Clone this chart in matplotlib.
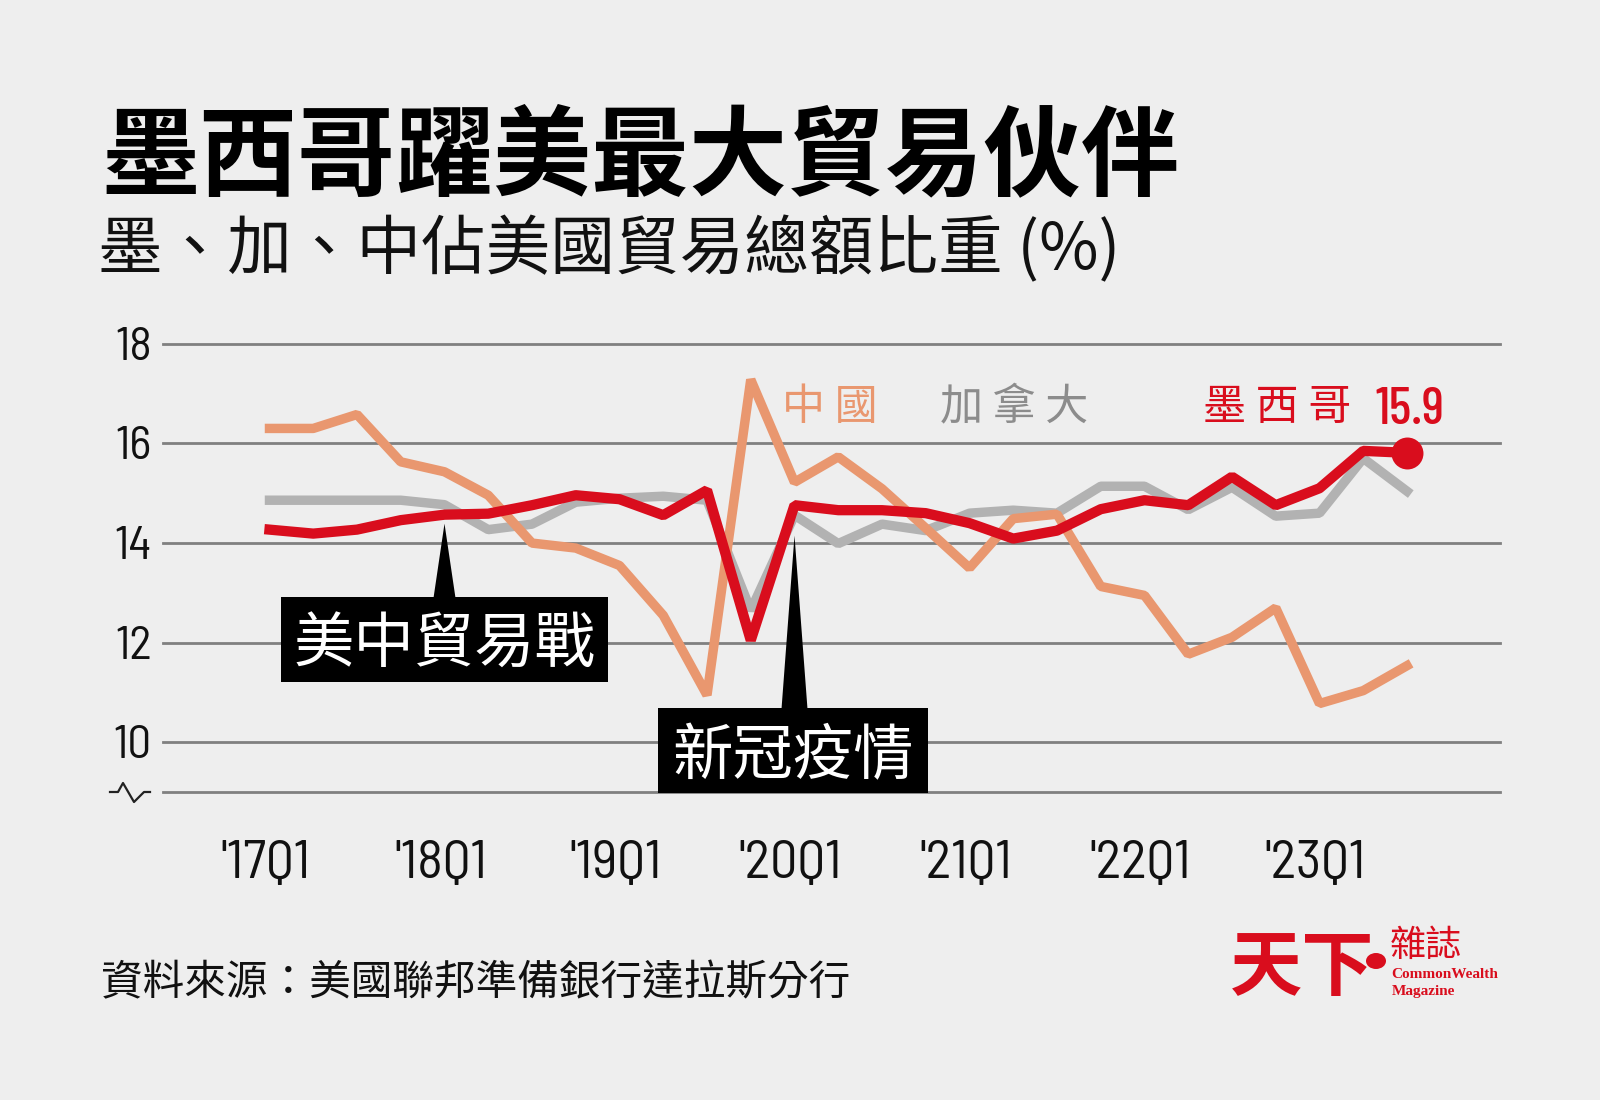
import matplotlib
matplotlib.use("Agg")
import matplotlib.pyplot as plt
from matplotlib.patches import Rectangle, Polygon, Ellipse
from matplotlib.transforms import ScaledTranslation

W, H = 1600, 1100
BG = "#eeeeee"
RED = "#d90d1d"
ORANGE = "#e9976f"
GRAY = "#b2b2b2"
GRID = "#808080"

quarters = list(range(27))
china = [16.3, 16.3, 16.58, 15.63, 15.43, 14.96, 14.0, 13.9, 13.55, 12.55, 10.95, 17.28, 15.22, 15.73,
         15.09, 14.3, 13.5, 14.49, 14.58, 13.13, 12.95, 11.77, 12.11, 12.7, 10.78, 11.04, 11.54]
canada = [14.86, 14.86, 14.86, 14.86, 14.77, 14.27, 14.38, 14.82, 14.9, 14.94, 14.86, 12.65, 14.56, 13.99,
          14.38, 14.25, 14.6, 14.66, 14.6, 15.14, 15.14, 14.67, 15.12, 14.54, 14.6, 15.7, 15.04]
mexico = [14.27, 14.19, 14.27, 14.46, 14.57, 14.59, 14.76, 14.96, 14.88, 14.56, 15.06, 12.05, 14.76, 14.66,
          14.66, 14.6, 14.4, 14.09, 14.25, 14.68, 14.86, 14.76, 15.33, 14.76, 15.1, 15.85, 15.81]
xtick_pos = [0, 4, 8, 12, 16, 20, 24]
xtick_labels = ["'17Q1", "'18Q1", "'19Q1", "'20Q1", "'21Q1", "'22Q1", "'23Q1"]
ytick_pos = [9, 10, 12, 14, 16, 18]
ytick_labels = ["", "10", "12", "14", "16", "18"]
last_label = "15.9"

CJK = ["Noto Sans CJK TC", "DejaVu Sans"]
NARROW = ["Barlow Condensed", "Roboto", "DejaVu Sans"]
SEMI = ["Barlow Semi Condensed", "Roboto", "DejaVu Sans"]
SERIF = ["Liberation Serif", "DejaVu Serif"]

fig = plt.figure(figsize=(W / 100, H / 100), dpi=100, facecolor=BG)


def fx(x):
    return x / W


def fy(y):
    return 1 - y / H


# Plot area in pixels: gridlines run 163-1500, value 18 at 343.7, value 9 at 792.3
L, R, T, B = 163, 1500, 343.7, 792.3
ax = fig.add_axes([fx(L), fy(B), (R - L) / W, (B - T) / H], facecolor="none")
X0, DX = 269.5, 43.75
ax.set_xlim((L - X0) / DX, (R - X0) / DX)
ax.set_ylim(9, 18)
for s in ax.spines.values():
    s.set_visible(False)
ax.set_axisbelow(True)
ax.set_yticks(ytick_pos, ytick_labels, fontsize=34, family=SEMI, color="#111111")
ax.set_xticks(xtick_pos, xtick_labels, fontsize=39, family=SEMI, color="#111111")
ax.tick_params(axis="y", length=0, pad=8)
ax.tick_params(axis="x", length=0, pad=34)
ax.yaxis.grid(True, color=GRID, lw=2.0)
ax.xaxis.grid(False)
for gl in ax.get_ygridlines():
    gl.set_clip_on(False)
shift = ScaledTranslation(0, 0.5 / 72, fig.dpi_scale_trans)
for lab in ax.get_yticklabels():
    lab.set_transform(lab.get_transform() + shift)
left = ScaledTranslation(-3 / 72, 0, fig.dpi_scale_trans)
for lab in ax.get_xticklabels():
    lab.set_transform(lab.get_transform() + left)

style = dict(solid_capstyle="projecting", solid_joinstyle="bevel", clip_on=False)
ax.plot(quarters, canada, color=GRAY, lw=6.8, zorder=3, **style)
ax.plot(quarters, china, color=ORANGE, lw=6.8, zorder=4, **style)
ax.plot(quarters, mexico, color=RED, lw=7.4, zorder=5, **style)
ax.plot(quarters[-1], mexico[-1], "o", color=RED, ms=23, mew=0, zorder=6, clip_on=False)


def px_text(x, y, s, **kw):
    kw.setdefault("ha", "left")
    kw.setdefault("va", "center")
    kw.setdefault("family", CJK)
    return fig.text(fx(x), fy(y), s, **kw)


def callout(idx, val, x0, x1, y0, y1, half, label, size):
    """Black box with a spike rising to the data point (idx, val)."""
    xc = X0 + DX * idx
    _, apex = ax.transData.transform((idx, val))
    apex_y = H - apex
    fig.add_artist(Polygon([(fx(xc - half), fy(y0 + 1)), (fx(xc + half), fy(y0 + 1)), (fx(xc), fy(apex_y))],
                           closed=True, transform=fig.transFigure, fc="black", ec="none", zorder=7))
    fig.add_artist(Rectangle((fx(x0), fy(y1)), (x1 - x0) / W, (y1 - y0) / H, transform=fig.transFigure,
                             fc="black", ec="none", zorder=7))
    px_text((x0 + x1) / 2, (y0 + y1) / 2 + 6, label, ha="center", color="white", fontsize=size, zorder=8)


callout(4, 14.39, 281, 608, 597, 682, 11, "美中貿易戰", 43.5)
callout(12, 14.15, 658, 928, 708, 793, 13, "新冠疫情", 43.5)

# Title block
px_text(101, 159, "墨西哥躍美最大貿易伙伴", fontsize=70.6, fontweight="black", color="#000000")
px_text(98, 251, "墨、加、中佔美國貿易總額比重 (%)", fontsize=46.5, color="#111111")

# Direct labels
px_text(782, 408, "中 國", fontsize=31, color=ORANGE)
px_text(940, 408, "加 拿 大", fontsize=31, color="#8c8c8c")
px_text(1203, 408, "墨 西 哥", fontsize=31, color=RED)
px_text(1375, 411, last_label, fontsize=38, fontweight="medium", family=NARROW, color=RED)

# Axis break glyph
brk_x = [110, 118, 123, 134, 144, 150]
brk_y = [792, 792, 783, 802, 792, 792]
fig.add_artist(plt.Line2D([fx(v) for v in brk_x], [fy(v) for v in brk_y], color="#222222", lw=1.6,
                          transform=fig.transFigure))

# Source
px_text(101, 984, "資料來源\uff1a美國聯邦準備銀行達拉斯分行", fontsize=30, color="#111111")

# Logo wordmark
px_text(1230, 969, "天下", fontsize=52, fontweight="black", color=RED)
fig.add_artist(Ellipse((fx(1376), fy(961)), 20 / W, 16 / H, transform=fig.transFigure, fc=RED, ec="none"))
px_text(1390, 946, "雜誌", fontsize=26, fontweight="medium", color=RED)
px_text(1391, 974, "CommonWealth", fontsize=11, fontweight="bold", family=SERIF, color=RED)
px_text(1392, 992, "Magazine", fontsize=11, fontweight="bold", family=SERIF, color=RED)

fig.savefig("out.png", dpi=100, facecolor=BG)
